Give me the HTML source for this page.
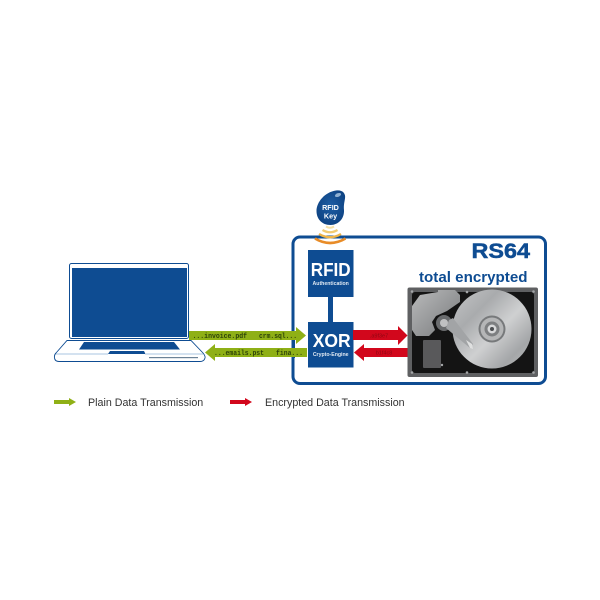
<!DOCTYPE html>
<html><head><meta charset="utf-8"><style>
html,body{margin:0;padding:0;background:#fff}
svg{display:block}
text{font-family:"Liberation Sans",sans-serif}
.m{font-family:"Liberation Mono",monospace;font-size:7.200px;fill:#2c4208;font-weight:bold}
</style></head><body>
<svg width="600" height="600" viewBox="0 0 600 600" xmlns="http://www.w3.org/2000/svg">
<defs>
<linearGradient id="pl" x1="0" y1="0" x2="1" y2="1"><stop offset="0" stop-color="#c4c5c6"/><stop offset=".3" stop-color="#a9abad"/><stop offset=".55" stop-color="#cfd0d1"/><stop offset=".8" stop-color="#a4a6a8"/><stop offset="1" stop-color="#bcbdbe"/></linearGradient>
<linearGradient id="lid" x1="0" y1="0" x2="1" y2="1"><stop offset="0" stop-color="#b9babb"/><stop offset="1" stop-color="#77797b"/></linearGradient>
<radialGradient id="key" cx="50%" cy="45%" r="65%"><stop offset="0" stop-color="#1e5ea4"/><stop offset="1" stop-color="#0c3f7e"/></radialGradient>
</defs>
<rect width="600" height="600" fill="#fff"/>

<!-- main frame -->
<rect x="293" y="237" width="252.500" height="146.500" rx="7" fill="none" stroke="#0e4c92" stroke-width="3"/>

<!-- RFID key -->
<path d="M336 190.500 C342 189.500 346 193 345 198.500 C344.500 202 343.500 205 344 210 C344.500 219 338 225 330.500 225 C322 225 316.500 219 316.500 211 C316.500 202 325 192 336 190.500 Z" fill="url(#key)"/>
<ellipse cx="338" cy="195" rx="3.200" ry="1.800" fill="#8fb0d2" transform="rotate(-20 338 195)"/>
<text x="330.500" y="210" text-anchor="middle" font-size="7.200" font-weight="bold" fill="#fff">RFID</text>
<text x="330.500" y="218.500" text-anchor="middle" font-size="7.200" font-weight="bold" fill="#fff">Key</text>
<!-- waves -->
<path d="M326 226.500 Q330 229 334 226.500" fill="none" stroke="#f5e0a5" stroke-width="2"/>
<path d="M322.500 230 Q330 234.500 337.500 230" fill="none" stroke="#f2cb72" stroke-width="2.200"/>
<path d="M319 234 Q330 240.500 341 234" fill="none" stroke="#eeb448" stroke-width="2.400"/>
<path d="M315 238.500 Q330 247.500 345.500 238.500" fill="none" stroke="#e88c28" stroke-width="2.600"/>

<!-- connector + boxes -->
<rect x="328" y="296" width="5" height="27" fill="#0e4c92"/>
<rect x="308" y="250" width="45.500" height="47" fill="#0e4c92"/>
<text x="310.700" y="276" font-size="18" font-weight="bold" fill="#fff" textLength="40" lengthAdjust="spacingAndGlyphs">RFID</text>
<text x="330.700" y="285" text-anchor="middle" font-size="5.200" font-weight="bold" fill="#dfe8f2">Authentication</text>
<rect x="308" y="322" width="45.500" height="45.500" fill="#0e4c92"/>
<text x="312.700" y="347" font-size="18" font-weight="bold" fill="#fff" textLength="38" lengthAdjust="spacingAndGlyphs">XOR</text>
<text x="330.700" y="356" text-anchor="middle" font-size="5.200" font-weight="bold" fill="#dfe8f2">Crypto-Engine</text>

<!-- green arrows -->
<polygon points="189,331 296,331 296,327 306,335.500 296,344 296,340 189,340" fill="#8fb016"/>
<polygon points="307,348 215,348 215,344 205,352.500 215,361 215,357 307,357" fill="#8fb016"/>
<rect x="292.500" y="340" width="2.500" height="8" fill="#0e4c92"/>
<rect x="292.500" y="357" width="2.500" height="1" fill="#0e4c92"/>
<text class="m" x="192.500" y="338" textLength="54.500" lengthAdjust="spacingAndGlyphs">...invoice.pdf</text>
<text class="m" x="259" y="338" textLength="38" lengthAdjust="spacingAndGlyphs">crm.sql...</text>
<text class="m" x="214" y="355" textLength="50" lengthAdjust="spacingAndGlyphs">...emails.pst</text>
<text class="m" x="276" y="355" textLength="27" lengthAdjust="spacingAndGlyphs">fina...</text>

<!-- red arrows -->
<polygon points="353,330 398,330 398,326 407.500,335.500 398,345 398,340 353,340" fill="#d2071c"/>
<polygon points="408,348 364,348 364,344 354,352.500 364,361 364,357 408,357" fill="#d2071c"/>
<text x="379" y="337.500" text-anchor="middle" font-family="Liberation Mono" font-size="5.500" fill="#8d0813">.a9f3e7</text>
<text x="384" y="354.500" text-anchor="middle" font-family="Liberation Mono" font-size="5.500" fill="#8d0813">b1f4c8</text>

<!-- titles -->
<text x="471.500" y="258" font-size="21.500" font-weight="bold" fill="#0e4c92" stroke="#0e4c92" stroke-width=".5" textLength="58.500" lengthAdjust="spacingAndGlyphs">RS64</text>
<text x="419" y="282" font-size="14.500" font-weight="bold" fill="#0e4c92" textLength="108.500" lengthAdjust="spacingAndGlyphs">total encrypted</text>

<!-- HDD -->
<rect x="407.500" y="287.500" width="130.500" height="89.500" rx="2" fill="#5f6062"/>
<rect x="412" y="292" width="122" height="81" rx="3" fill="#141414"/>
<path d="M412 306 L420 295 L438 292 L438 290 L455 290 L460 295 L460 302 L447 311 L436 316 L432 322 L435 330 L429 336 L416 336 L412 330 Z" fill="url(#lid)"/>
<rect x="423" y="340" width="18" height="28" rx="1" fill="#59595b"/>
<circle cx="492" cy="329" r="39.500" fill="url(#pl)"/>
<circle cx="492" cy="329" r="13.500" fill="#77797b"/>
<circle cx="492" cy="329" r="11.500" fill="#b5b6b7"/>
<circle cx="492" cy="329" r="7.500" fill="#7d7f81"/>
<circle cx="492" cy="329" r="4.500" fill="#d8d9da"/>
<circle cx="492" cy="329" r="2" fill="#4b4d50"/>
<!-- actuator -->
<circle cx="444" cy="323" r="8" fill="#6a6c6e"/>
<circle cx="444" cy="323" r="4" fill="#c0c1c2"/>
<polygon points="449,320 453,318 473,344 470,348 446,328" fill="#a2a4a6"/>
<polygon points="466,340 472,344 473,349 470,348" fill="#dfe0e0"/>
<!-- screws -->
<g fill="#a4a6a8"><circle cx="412" cy="291.500" r="1.300"/><circle cx="467" cy="292" r="1.300"/><circle cx="533.500" cy="291.500" r="1.300"/><circle cx="412" cy="372.500" r="1.300"/><circle cx="467" cy="372.500" r="1.300"/><circle cx="533.500" cy="372.500" r="1.300"/><circle cx="442" cy="365" r="1.200"/></g>

<!-- laptop -->
<rect x="69.500" y="263.500" width="119" height="75" rx="2" fill="#fff" stroke="#0e4c92" stroke-width="1"/>
<rect x="72" y="268" width="115" height="69" fill="#0e4c92"/>
<path d="M67 340.500 L191 340.500 L203 353 Q205.500 356 205 358 Q204 361.500 200 361.500 L59 361.500 Q55 361.500 54.500 358 Q54 355 56 353 Z" fill="#fff" stroke="#0e4c92" stroke-width=".9"/>
<polygon points="84,342 174,342 180,349.500 79,349.500" fill="#0e4c92"/>
<polygon points="110,351 144,351 145.500,354 108,354" fill="#0e4c92"/>
<path d="M56 354 L108 354 M145 354 L203 354" stroke="#a9c6e2" stroke-width="1" fill="none"/>
<rect x="149" y="357" width="49" height="1.200" fill="#6c8398"/>

<!-- legend -->
<polygon points="54,400 69,400 69,398 76,402 69,406 69,404 54,404" fill="#8fb016"/>
<text x="88" y="406" font-size="10.700" fill="#333">Plain Data Transmission</text>
<polygon points="230,400 245,400 245,398 252,402 245,406 245,404 230,404" fill="#d2071c"/>
<text x="265" y="406" font-size="10.700" fill="#333">Encrypted Data Transmission</text>
</svg>
</body></html>
